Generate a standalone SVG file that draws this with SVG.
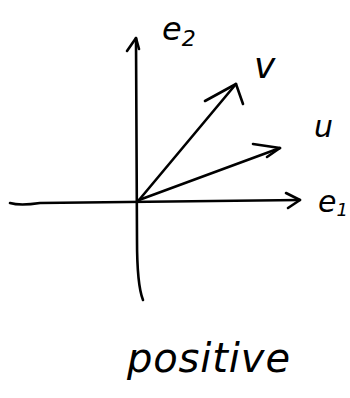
<svg xmlns="http://www.w3.org/2000/svg" width="350" height="398" viewBox="0 0 350 398">
<style>
.ln{fill:none;stroke:#000;stroke-width:2.6;stroke-linecap:round;stroke-linejoin:round}
.t{font-family:"DejaVu Sans","Liberation Sans",sans-serif;font-style:italic;fill:#000}
</style>
<rect width="350" height="398" fill="#fff"/>
<g id="connectors">
<path class="ln" d="M10 203 Q20 206 40 203 L300 200"/>
<path class="ln" d="M286 193 L300 200 L288 208"/>
<path class="ln" d="M143 300 Q137 285 137 240 L136 38"/>
<path class="ln" d="M127 51 L136 38 L139 49"/>
<path class="ln" d="M139 200 L236 84"/>
<path class="ln" d="M205 101 L236 84 L243 104"/>
<path class="ln" d="M139 200 L280 148"/>
<path class="ln" d="M253 144 L280 148 L267 157"/>
</g>
<g id="e2"><text class="t" x="162" y="40" font-size="32">e<tspan font-size="22" dy="6">2</tspan></text></g>
<g id="v"><text class="t" x="254" y="78" font-size="36">v</text></g>
<g id="u"><text class="t" x="314" y="137" font-size="30">u</text></g>
<g id="e1"><text class="t" x="318" y="212" font-size="30">e<tspan font-size="18" dy="4">1</tspan></text></g>
<g id="positive"><text class="t" x="127" y="372" font-size="40" textLength="163" lengthAdjust="spacing">positive</text></g>
</svg>
